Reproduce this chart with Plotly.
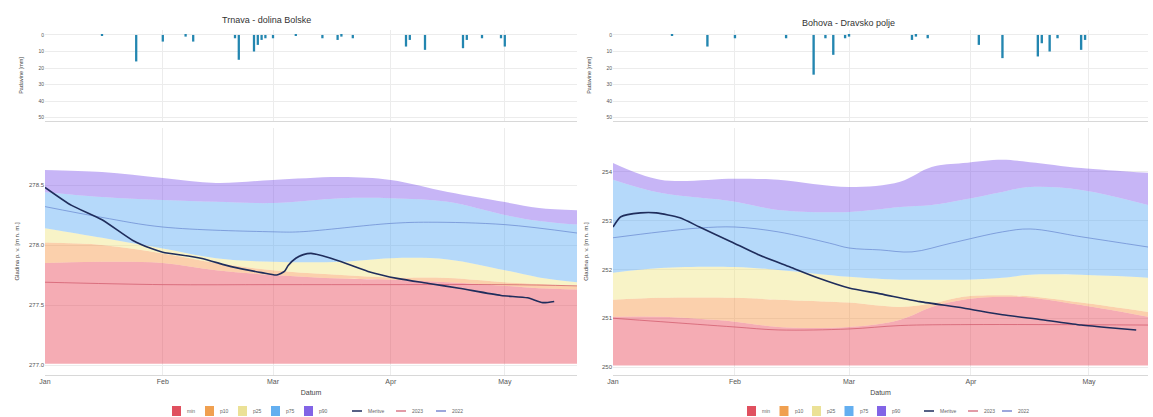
import plotly.graph_objects as go

# ---------------- data: Trnava - dolina Bolske ----------------
L_band_dates = ["2024-01-01", "2024-01-16", "2024-02-01", "2024-02-15", "2024-03-01", "2024-03-19",
                "2024-04-01", "2024-04-16", "2024-05-01", "2024-05-10", "2024-05-20"]
L_min = [277.01, 277.01, 277.01, 277.01, 277.01, 277.01, 277.01, 277.01, 277.01, 277.01, 277.01]
L_p10 = [277.85, 277.86, 277.85, 277.79, 277.75, 277.72, 277.71, 277.69, 277.66, 277.64, 277.63]
L_p25 = [278.02, 278.00, 277.93, 277.85, 277.79, 277.75, 277.73, 277.725, 277.69, 277.675, 277.66]
L_p75 = [278.14, 278.06, 277.97, 277.89, 277.86, 277.86, 277.89, 277.88, 277.79, 277.73, 277.69]
L_p90 = [278.44, 278.40, 278.375, 278.36, 278.35, 278.39, 278.39, 278.36, 278.25, 278.20, 278.17]
L_max = [278.625, 278.608, 278.558, 278.517, 278.542, 278.567, 278.542, 278.442, 278.358, 278.308, 278.29]

L_med_dates = ["2024-01-01", "2024-01-16", "2024-02-01", "2024-03-01", "2024-03-08", "2024-04-01",
               "2024-04-11", "2024-05-01", "2024-05-20"]
L_med = [278.32, 278.23, 278.15, 278.11, 278.11, 278.18, 278.19, 278.17, 278.10]

L_red_dates = ["2024-01-01", "2024-02-01", "2024-03-01", "2024-04-01", "2024-05-01", "2024-05-20"]
L_red = [277.69, 277.67, 277.67, 277.67, 277.67, 277.66]

L_meas_dates = ["2024-01-01", "2024-01-08", "2024-01-16", "2024-01-24", "2024-01-29", "2024-02-01",
                "2024-02-11", "2024-02-19", "2024-02-27", "2024-03-02", "2024-03-04", "2024-03-05",
                "2024-03-07", "2024-03-09", "2024-03-11", "2024-03-14", "2024-03-19", "2024-03-26",
                "2024-04-03", "2024-04-11", "2024-04-19", "2024-04-30", "2024-05-07", "2024-05-11",
                "2024-05-14"]
L_meas = [278.48, 278.33, 278.21, 278.04, 277.97, 277.94, 277.89, 277.82, 277.77, 277.75, 277.78, 277.83,
          277.89, 277.92, 277.93, 277.91, 277.86, 277.78, 277.72, 277.68, 277.64, 277.58, 277.56, 277.52,
          277.53]

L_rain_dates = ["2024-01-16", "2024-01-25", "2024-02-01", "2024-02-07", "2024-02-09", "2024-02-20",
                "2024-02-21", "2024-02-25", "2024-02-26", "2024-02-27", "2024-02-28", "2024-03-01",
                "2024-03-07", "2024-03-14", "2024-03-18", "2024-03-19", "2024-03-22", "2024-04-05",
                "2024-04-06", "2024-04-10", "2024-04-20", "2024-04-21", "2024-04-25", "2024-04-30",
                "2024-05-01"]
L_rain = [0.5, 16, 4, 1, 4, 2, 15, 10, 6, 3, 2, 2, 0.5, 2, 3, 1, 2, 7, 3, 9, 8, 3, 2, 2, 7]

# ---------------- data: Bohova - Dravsko polje ----------------
R_band_dates = ["2024-01-01", "2024-01-13", "2024-02-01", "2024-02-12", "2024-03-01", "2024-03-14",
                "2024-03-22", "2024-03-30", "2024-04-09", "2024-04-16", "2024-04-29", "2024-05-16"]
R_min = [250.03, 250.03, 250.03, 250.03, 250.03, 250.03, 250.03, 250.03, 250.03, 250.03, 250.03, 250.03]
R_p10 = [251.03, 251.03, 250.93, 250.82, 250.82, 250.97, 251.23, 251.38, 251.44, 251.42, 251.27, 251.03]
R_p25 = [251.38, 251.42, 251.42, 251.38, 251.32, 251.23, 251.30, 251.44, 251.47, 251.45, 251.32, 251.13]
R_p75 = [251.93, 252.03, 252.05, 251.99, 251.85, 251.79, 251.79, 251.79, 251.83, 251.89, 251.89, 251.83]
R_p90 = [253.84, 253.57, 253.39, 253.22, 253.18, 253.28, 253.32, 253.43, 253.59, 253.69, 253.63, 253.32]
R_max = [254.18, 253.84, 253.86, 253.84, 253.69, 253.80, 254.10, 254.18, 254.25, 254.20, 254.08, 253.98]

R_med_dates = ["2024-01-01", "2024-01-13", "2024-01-23", "2024-02-01", "2024-02-12", "2024-02-25",
               "2024-03-01", "2024-03-09", "2024-03-17", "2024-03-27", "2024-04-09", "2024-04-16",
               "2024-04-29", "2024-05-16"]
R_med = [252.65, 252.77, 252.85, 252.87, 252.77, 252.54, 252.44, 252.40, 252.36, 252.54, 252.77, 252.83,
         252.67, 252.46]

R_red_dates = ["2024-01-01", "2024-01-13", "2024-02-01", "2024-02-12", "2024-03-01", "2024-03-14",
               "2024-04-01", "2024-05-16"]
R_red = [251.00, 250.93, 250.82, 250.76, 250.78, 250.85, 250.87, 250.86]

R_meas_dates = ["2024-01-01", "2024-01-03", "2024-01-08", "2024-01-12", "2024-01-18", "2024-01-23",
                "2024-01-31", "2024-02-07", "2024-02-15", "2024-02-22", "2024-03-01", "2024-03-09",
                "2024-03-19", "2024-03-30", "2024-04-09", "2024-04-19", "2024-04-29", "2024-05-07",
                "2024-05-13"]
R_meas = [252.87, 253.08, 253.16, 253.16, 253.06, 252.87, 252.57, 252.30, 252.05, 251.83, 251.62, 251.50,
          251.34, 251.21, 251.07, 250.97, 250.86, 250.80, 250.76]

R_rain_dates = ["2024-01-16", "2024-01-25", "2024-02-01", "2024-02-14", "2024-02-21", "2024-02-24",
                "2024-02-26", "2024-02-29", "2024-03-01", "2024-03-17", "2024-03-18", "2024-03-21",
                "2024-04-03", "2024-04-09", "2024-04-18", "2024-04-19", "2024-04-21", "2024-04-23",
                "2024-04-29", "2024-04-30"]
R_rain = [0.5, 7, 2, 2, 24, 2, 12, 2, 1, 3, 1, 2, 6, 14, 13, 5, 10, 2, 9, 3]

band_names = ["min", "p10", "p25", "p75", "p90"]
line_names = ["Meritve", "2023", "2022"]

BAND_COLORS = ["rgba(232,72,88,0.45)", "rgba(246,150,70,0.45)", "rgba(240,228,130,0.45)",
               "rgba(90,170,245,0.45)", "rgba(130,90,235,0.45)"]
BAND_KEY_COLORS = ["#e0505f", "#f0a050", "#ebe196", "#64aff0", "#8264e6"]
MEAS_COLOR = "#1f2d5c"
RED_COLOR = "rgba(200,70,90,0.6)"
MED_COLOR = "rgba(90,120,200,0.6)"
LINE_KEY_COLORS = [MEAS_COLOR, "#d87a8a", "#7c8ad0"]
RAIN_COLOR = "#2386b0"

fig = go.Figure()


def add_station(dates, bounds, med_d, med, red_d, red, meas_d, meas, rain_d, rain, xa, ya, xp, yp):
    fig.add_trace(go.Scatter(x=dates, y=bounds[0], mode="lines", line=dict(width=0, shape="spline"),
                             showlegend=False, hoverinfo="skip", xaxis=xa, yaxis=ya))
    for i in range(5):
        fig.add_trace(go.Scatter(x=dates, y=bounds[i + 1], mode="none", fill="tonexty",
                                 fillcolor=BAND_COLORS[i], line=dict(shape="spline"),
                                 name=band_names[i], showlegend=False, xaxis=xa, yaxis=ya))
    fig.add_trace(go.Scatter(x=red_d, y=red, mode="lines", line=dict(color=RED_COLOR, width=1, shape="spline"),
                             name=line_names[1], showlegend=False, xaxis=xa, yaxis=ya))
    fig.add_trace(go.Scatter(x=med_d, y=med, mode="lines", line=dict(color=MED_COLOR, width=1, shape="spline"),
                             name=line_names[2], showlegend=False, xaxis=xa, yaxis=ya))
    fig.add_trace(go.Scatter(x=meas_d, y=meas, mode="lines",
                             line=dict(color=MEAS_COLOR, width=1.6, shape="spline", smoothing=0.6),
                             name=line_names[0], showlegend=False, xaxis=xa, yaxis=ya))
    fig.add_trace(go.Bar(x=rain_d, y=rain, marker=dict(color=RAIN_COLOR, line=dict(width=0)),
                         width=0.6 * 86400000, showlegend=False, xaxis=xp, yaxis=yp))


add_station(L_band_dates, [L_min, L_p10, L_p25, L_p75, L_p90, L_max], L_med_dates, L_med,
            L_red_dates, L_red, L_meas_dates, L_meas, L_rain_dates, L_rain, "x", "y", "x2", "y2")
add_station(R_band_dates, [R_min, R_p10, R_p25, R_p75, R_p90, R_max], R_med_dates, R_med,
            R_red_dates, R_red, R_meas_dates, R_meas, R_rain_dates, R_rain, "x3", "y3", "x4", "y4")

H = 417.0
W = 1153.0
LX = [45 / W, 577 / W]
RX = [613 / W, 1148 / W]
PY = [1 - 121 / H, 1 - 30 / H]
MY = [1 - 375 / H, 1 - 128 / H]

tickfont = dict(size=7, color="#555")
grid = "#ececec"
xcommon = dict(type="date", dtick="M1", tickformat="%b",
               showgrid=True, gridcolor=grid, gridwidth=1, showline=True,
               linecolor="#d8d8d8", zeroline=False, ticks="")
LRANGE = ["2024-01-01", "2024-05-20"]
RRANGE = ["2024-01-01", "2024-05-16"]

# ---- compact legends (swatches + real text) ----
shapes = []
annotations = [
    dict(text="Trnava - dolina Bolske", x=266 / W, y=1 - 20 / H, xref="paper", yref="paper",
         xanchor="center", yanchor="middle", showarrow=False, font=dict(size=9, color="#333")),
    dict(text="Bohova - Dravsko polje", x=848 / W, y=1 - 23 / H, xref="paper", yref="paper",
         xanchor="center", yanchor="middle", showarrow=False, font=dict(size=9, color="#333")),
]


def add_legend(sq_start, sq_pitch, line_starts):
    yc = 411
    for i, name in enumerate(band_names):
        x0 = sq_start + i * sq_pitch
        shapes.append(dict(type="rect", xref="paper", yref="paper", x0=x0 / W, x1=(x0 + 9) / W,
                           y0=1 - (yc + 5) / H, y1=1 - (yc - 5) / H,
                           fillcolor=BAND_KEY_COLORS[i], line=dict(width=0)))
        annotations.append(dict(text=name, x=(x0 + 13) / W, y=1 - yc / H, xref="paper", yref="paper",
                                xanchor="left", yanchor="middle", showarrow=False,
                                font=dict(size=5, color="#666")))
    for i, name in enumerate(line_names):
        x0 = line_starts[i]
        shapes.append(dict(type="line", xref="paper", yref="paper", x0=x0 / W, x1=(x0 + 10) / W,
                           y0=1 - yc / H, y1=1 - yc / H,
                           line=dict(color=LINE_KEY_COLORS[i], width=1.5)))
        annotations.append(dict(text=name, x=(x0 + 14) / W, y=1 - yc / H, xref="paper", yref="paper",
                                xanchor="left", yanchor="middle", showarrow=False,
                                font=dict(size=5, color="#666")))


add_legend(172, 33, [352, 396, 436])
add_legend(747, 32.5, [924, 968, 1002])

fig.update_layout(
    width=1153, height=417, margin=dict(l=0, r=0, t=0, b=0, autoexpand=False),
    paper_bgcolor="white", plot_bgcolor="white",
    font=dict(family="Liberation Sans, Arial, sans-serif", color="#333"),
    barmode="overlay", showlegend=False,
    xaxis=dict(domain=LX, anchor="y", range=LRANGE, tickfont=tickfont, **xcommon,
               title=dict(text="Datum", font=dict(size=7, color="#444"), standoff=4)),
    yaxis=dict(domain=MY, anchor="x", range=[276.917, 278.975], tickvals=[277.0, 277.5, 278.0, 278.5],
               ticktext=["277.0", "277.5", "278.0", "278.5"],
               showgrid=True, gridcolor=grid, tickfont=dict(size=6, color="#555"), zeroline=False,
               title=dict(text="Gladina p. v. [m n. m.]", font=dict(size=6, color="#444"), standoff=8)),
    xaxis2=dict(domain=LX, anchor="y2", range=LRANGE, matches="x", showticklabels=False, **xcommon),
    yaxis2=dict(domain=PY, anchor="x2", range=[52, -3], tickvals=[0, 10, 20, 30, 40, 50],
                showgrid=True, gridcolor=grid, tickfont=dict(size=5, color="#555"), zeroline=False,
                title=dict(text="Padavine [mm]", font=dict(size=5.5, color="#444"), standoff=14)),
    xaxis3=dict(domain=RX, anchor="y3", range=RRANGE, tickfont=tickfont, **xcommon,
                title=dict(text="Datum", font=dict(size=7, color="#444"), standoff=4)),
    yaxis3=dict(domain=MY, anchor="x3", range=[249.836, 254.9], tickvals=[250, 251, 252, 253, 254],
                showgrid=True, gridcolor=grid, tickfont=dict(size=6, color="#555"), zeroline=False,
                title=dict(text="Gladina p. v. [m n. m.]", font=dict(size=6, color="#444"), standoff=12)),
    xaxis4=dict(domain=RX, anchor="y4", range=RRANGE, matches="x3", showticklabels=False, **xcommon),
    yaxis4=dict(domain=PY, anchor="x4", range=[52, -3], tickvals=[0, 10, 20, 30, 40, 50],
                showgrid=True, gridcolor=grid, tickfont=dict(size=5, color="#555"), zeroline=False,
                title=dict(text="Padavine [mm]", font=dict(size=5.5, color="#444"), standoff=14)),
    shapes=shapes,
    annotations=annotations,
)

fig.write_html("out.html", config={"displayModeBar": False},
               post_script="document.body.style.margin='0';document.body.style.overflow='hidden';")
